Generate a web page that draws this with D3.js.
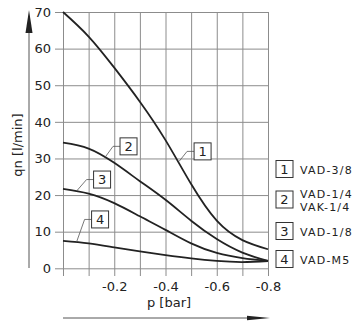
<!DOCTYPE html>
<html>
	<head>
		<meta charset="utf-8">
		<title>qn vs p</title>
		<script src="https://d3js.org/d3.v7.min.js"></script>
		<style>
			body { margin: 0; background: #fff; }
			text { font-family: "DejaVu Sans", sans-serif; fill: #222; }
		</style>
	</head>
	<body>
		<script>

//  Dados  //
			const pressures = [0, -0.1, -0.2, -0.3, -0.4, -0.5, -0.6, -0.7, -0.8];
			const flow1 = [70, 63.3, 54.8, 45.5, 35, 23, 13, 7.7, 5.2];
			const flow2 = [34.3, 32.7, 28.8, 23.8, 18.7, 13, 8, 4.3, 2];
			const flow3 = [21.7, 20.4, 17.8, 14.2, 10.5, 6.8, 4.2, 2.8, 2];
			const flow4 = [7.5, 6.8, 5.7, 4.6, 3.6, 2.7, 2, 1.7, 2];
			const seriesIds = ["1", "2", "3", "4"];
			const legendLines = [["VAD-3/8"], ["VAD-1/4", "VAK-1/4"], ["VAD-1/8"], ["VAD-M5"]];
			const yTicks = [0, 10, 20, 30, 40, 50, 60, 70];
			const xTicks = [0, -0.1, -0.2, -0.3, -0.4, -0.5, -0.6, -0.7, -0.8];
			const xLabelled = [-0.2, -0.4, -0.6, -0.8];

			let width = 360;
			let height = 321;
			var plot = {left: 63, right: 268, top: 12, bottom: 268.3};

			var svg = d3.select("body").append("svg")
				.attr("width", width)
				.attr("height", height);

			var x = d3.scaleLinear().domain([0, -0.8]).range([plot.left, plot.right]);
			var y = d3.scaleLinear().domain([0, 70]).range([plot.bottom, plot.top]);

			// grade horizontal + rotulos y
			svg.append("g")
				.attr("transform", "translate(55,0)")
				.call(d3.axisLeft(y).tickValues(yTicks).tickSize(-(plot.right - 55)).tickPadding(4))
				.call(g => g.select(".domain").remove())
				.call(g => g.selectAll("line").attr("stroke", "#8c8c8c"))
				.call(g => g.selectAll("text").attr("font-size", 13).attr("fill", "#222")
					.style("font-family", "'DejaVu Sans', sans-serif"));

			// grade vertical + rotulos x
			svg.append("g")
				.attr("transform", "translate(0," + plot.top + ")")
				.call(d3.axisBottom(x).tickValues(xTicks).tickSize(276 - plot.top).tickPadding(6)
					.tickFormat(d => xLabelled.some(v => Math.abs(v - d) < 1e-9) ? d.toFixed(1) : ""))
				.call(g => g.select(".domain").remove())
				.call(g => g.selectAll("line").attr("stroke", "#8c8c8c"))
				.call(g => g.selectAll("text").attr("font-size", 13).attr("fill", "#222")
					.style("font-family", "'DejaVu Sans', sans-serif"));

			// eixo y com seta
			svg.append("line")
				.attr("x1", 29).attr("x2", 29).attr("y1", 268).attr("y2", 20)
				.attr("stroke", "#555").attr("stroke-width", 1);
			svg.append("path")
				.attr("d", "M25.5,33 L29,10 L32.5,33 Z")
				.attr("fill", "#222");
			svg.append("text")
				.attr("transform", "translate(22,145) rotate(-90)")
				.attr("text-anchor", "middle")
				.attr("font-size", 13)
				.text("qn [l/min]");

			// eixo x com seta
			svg.append("line")
				.attr("x1", 63).attr("x2", 255).attr("y1", 318).attr("y2", 318)
				.attr("stroke", "#555").attr("stroke-width", 1);
			svg.append("path")
				.attr("d", "M247,315.8 L270,318 L247,320.2 Z")
				.attr("fill", "#222");
			svg.append("text")
				.attr("x", 169).attr("y", 307)
				.attr("text-anchor", "middle")
				.attr("font-size", 13)
				.text("p [bar]");

			// curvas
			var flows = [flow1, flow2, flow3, flow4];
			var line = d3.line()
				.x((d, i) => x(pressures[i]))
				.y(d => y(d))
				.curve(d3.curveNatural);

			svg.append("g")
				.selectAll("path")
				.data(flows)
				.join("path")
					.attr("d", d => line(d))
					.attr("fill", "none")
					.attr("stroke", "#222")
					.attr("stroke-width", 1.8);

			// marcadores nas curvas (ponto na curva, dobra, caixa)
			var markers = [
				{p: -0.453, q: 29.2, dx: 8, dy: -10},
				{p: -0.164, q: 30.3, dx: 8, dy: -11},
				{p: -0.053, q: 21.1, dx: 10, dy: -11.5},
				{p: -0.053, q: 7.2, dx: 8, dy: -22.5}
			];
			var boxSize = 17;
			var markGroup = svg.append("g");
			markers.forEach(function(m, i){
				let ax = x(m.p), ay = y(m.q);
				let bx = ax + m.dx, by = ay + m.dy;
				let boxLeft = bx + 7;
				markGroup.append("polyline")
					.attr("points", [[ax, ay], [bx, by], [boxLeft, by]].join(" "))
					.attr("fill", "none").attr("stroke", "#555").attr("stroke-width", 0.8);
				markGroup.append("rect")
					.attr("x", boxLeft).attr("y", by - boxSize / 2)
					.attr("width", boxSize).attr("height", boxSize)
					.attr("fill", "#fff").attr("stroke", "#333").attr("stroke-width", 1);
				markGroup.append("text")
					.attr("x", boxLeft + boxSize / 2).attr("y", by)
					.attr("dy", "0.36em")
					.attr("text-anchor", "middle")
					.attr("font-size", 13)
					.text(seriesIds[i]);
			});

			// legenda
			var legendY = [169, 199.5, 231, 259];
			var legend = svg.append("g");
			seriesIds.forEach(function(id, i){
				legend.append("rect")
					.attr("x", 276).attr("y", legendY[i] - boxSize / 2)
					.attr("width", boxSize).attr("height", boxSize)
					.attr("fill", "#fff").attr("stroke", "#333").attr("stroke-width", 1);
				legend.append("text")
					.attr("x", 276 + boxSize / 2).attr("y", legendY[i])
					.attr("dy", "0.36em").attr("text-anchor", "middle")
					.attr("font-size", 13)
					.text(id);
				let lines = legendLines[i];
				lines.forEach(function(t, j){
					legend.append("text")
						.attr("x", 300)
						.attr("y", legendY[i] + 1 + (j - (lines.length - 1) / 2) * 13)
						.attr("dy", "0.36em")
						.attr("font-size", 11)
						.attr("letter-spacing", 1.2)
						.text(t);
				});
			});

		</script>
	</body>
</html>
